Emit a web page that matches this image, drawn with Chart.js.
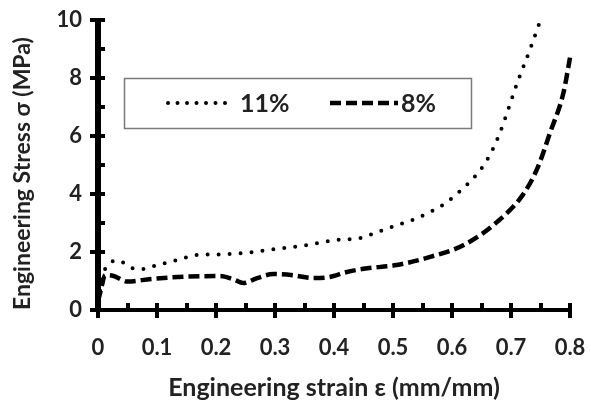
<!DOCTYPE html>
<html>
<head>
<meta charset="utf-8">
<script src="https://cdn.jsdelivr.net/npm/chart.js@4/dist/chart.umd.min.js"></script>
<style>
html,body{margin:0;padding:0;background:#fff;}
#wrap{width:591px;height:407px;}
</style>
</head>
<body>
<div id="wrap"><canvas id="c" width="591" height="407"></canvas></div>
<script>
// ---- data ----
const seriesNames = ["11%", "8%"];
const strain11 = [0, 0.01, 0.02, 0.034, 0.057, 0.074, 0.1, 0.13, 0.17, 0.21, 0.25, 0.3, 0.35, 0.402, 0.444, 0.475, 0.507, 0.535, 0.563, 0.59, 0.619, 0.645, 0.664, 0.681, 0.695, 0.71, 0.732, 0.75];
const stress11 = [0.3, 1.3, 1.62, 1.7, 1.45, 1.41, 1.55, 1.7, 1.9, 1.92, 1.97, 2.1, 2.22, 2.41, 2.48, 2.7, 2.93, 3.12, 3.38, 3.7, 4.2, 4.75, 5.34, 6.1, 6.9, 7.8, 8.97, 10.0];
const strain8 = [0, 0.005, 0.012, 0.025, 0.05, 0.09, 0.147, 0.207, 0.23, 0.246, 0.27, 0.297, 0.33, 0.364, 0.393, 0.42, 0.45, 0.506, 0.563, 0.62, 0.676, 0.72, 0.745, 0.766, 0.789, 0.8];
const stress8 = [0.3, 0.7, 1.2, 1.18, 0.98, 1.07, 1.15, 1.17, 1.05, 0.93, 1.1, 1.24, 1.2, 1.1, 1.14, 1.3, 1.42, 1.55, 1.83, 2.24, 3.03, 3.97, 4.9, 6.1, 7.5, 8.7];
const xTitle = "Engineering strain ε (mm/mm)";
const yTitle = "Engineering Stress σ (MPa)";

const FONT = "Lato";
const pts = (xs, ys) => xs.map((x, i) => ({x: x, y: ys[i]}));

const tickPlugin = {
  id: 'crossTicks',
  afterDraw(chart) {
    const ctx = chart.ctx, xs = chart.scales.x, ys = chart.scales.y;
    const L = Math.round(chart.chartArea.left), B = Math.round(chart.chartArea.bottom);
    ctx.save();
    ctx.fillStyle = '#000';
    // heavy axis lines (filled rectangles for crisp edges)
    ctx.fillRect(L - 3, Math.round(ys.top) - 2, 6, B - Math.round(ys.top) + 4);
    ctx.fillRect(L - 3, B - 2, Math.round(xs.right) - L + 5, 4);
    for (let v = 0; v <= 10; v++) {
      const py = Math.round(ys.getPixelForValue(v));
      if (v % 2 === 0) ctx.fillRect(L - 8, py - 2, 15, 4);
      else ctx.fillRect(L, py - 2, 7, 4);
    }
    for (let k = 0; k <= 16; k++) {
      const px = Math.round(xs.getPixelForValue(k * 0.05));
      if (k % 2 === 0) ctx.fillRect(px - 2, B - 7, 4, 15);
      else ctx.fillRect(px - 2, B - 7, 4, 7);
    }
    // legend box
    ctx.strokeStyle = '#7a7a7a';
    ctx.lineWidth = 1.5;
    ctx.strokeRect(124.5, 78.5, 347, 50);
    const ly = 103;
    const ds = chart.data.datasets;
    const items = [{x0: 168, x1: 231, tx: 240}, {x0: 330, x1: 398, tx: 401}];
    items.forEach((it, i) => {
      const d = ds[i];
      ctx.save();
      ctx.strokeStyle = d.borderColor;
      ctx.lineWidth = d.borderWidth;
      ctx.lineCap = d.borderCapStyle;
      ctx.setLineDash(i === 0 ? [0, 9.5] : d.borderDash);
      ctx.beginPath(); ctx.moveTo(it.x0, ly); ctx.lineTo(it.x1, ly); ctx.stroke();
      ctx.restore();
      ctx.fillStyle = '#222';
      ctx.font = 'bold 25px ' + FONT;
      ctx.textBaseline = 'middle';
      ctx.textAlign = 'left';
      ctx.fillText(d.label, it.tx, ly + 1);
    });
    ctx.restore();
  }
};

new Chart(document.getElementById('c'), {
  type: 'line',
  data: {
    datasets: [
      {label: seriesNames[0], data: pts(strain11, stress11), borderColor: '#000', borderWidth: 4,
       borderDash: [0, 11], borderCapStyle: 'round', pointRadius: 0, tension: 0.4, cubicInterpolationMode: 'monotone', fill: false},
      {label: seriesNames[1], data: pts(strain8, stress8), borderColor: '#000', borderWidth: 4.5,
       borderDash: [11, 5], borderCapStyle: 'butt', pointRadius: 0, tension: 0.4, cubicInterpolationMode: 'monotone', fill: false}
    ]
  },
  options: {
    responsive: false,
    animation: false,
    clip: false,
    layout: {padding: {left: 0, right: 21, top: 20, bottom: 0}},
    plugins: {legend: {display: false}, tooltip: {enabled: false}},
    scales: {
      x: {
        type: 'linear', min: 0, max: 0.8,
        afterFit: s => { s.height = 97; s.paddingLeft = 0; s.paddingRight = 0; },
        ticks: {stepSize: 0.1, padding: 25, color: '#222', font: {family: FONT, size: 22, weight: 'bold'}, maxRotation: 0},
        grid: {drawOnChartArea: false, drawTicks: false},
        border: {display: true, color: '#000', width: 4},
        title: {display: true, text: xTitle, color: '#222', font: {family: FONT, size: 25, weight: 'bold'}, padding: {top: 0, bottom: 4}}
      },
      y: {
        type: 'linear', min: 0, max: 10,
        afterFit: s => { s.width = 98; s.paddingTop = 0; s.paddingBottom = 0; },
        ticks: {stepSize: 2, padding: 16, color: '#222', font: {family: FONT, size: 22, weight: 'bold'}},
        grid: {drawOnChartArea: false, drawTicks: false},
        border: {display: true, color: '#000', width: 4},
        title: {display: true, text: yTitle, align: 'start', color: '#222', font: {family: FONT, size: 23, weight: 'bold'}, padding: {top: 9, bottom: 0}}
      }
    }
  },
  plugins: [tickPlugin]
});
</script>
</body>
</html>
